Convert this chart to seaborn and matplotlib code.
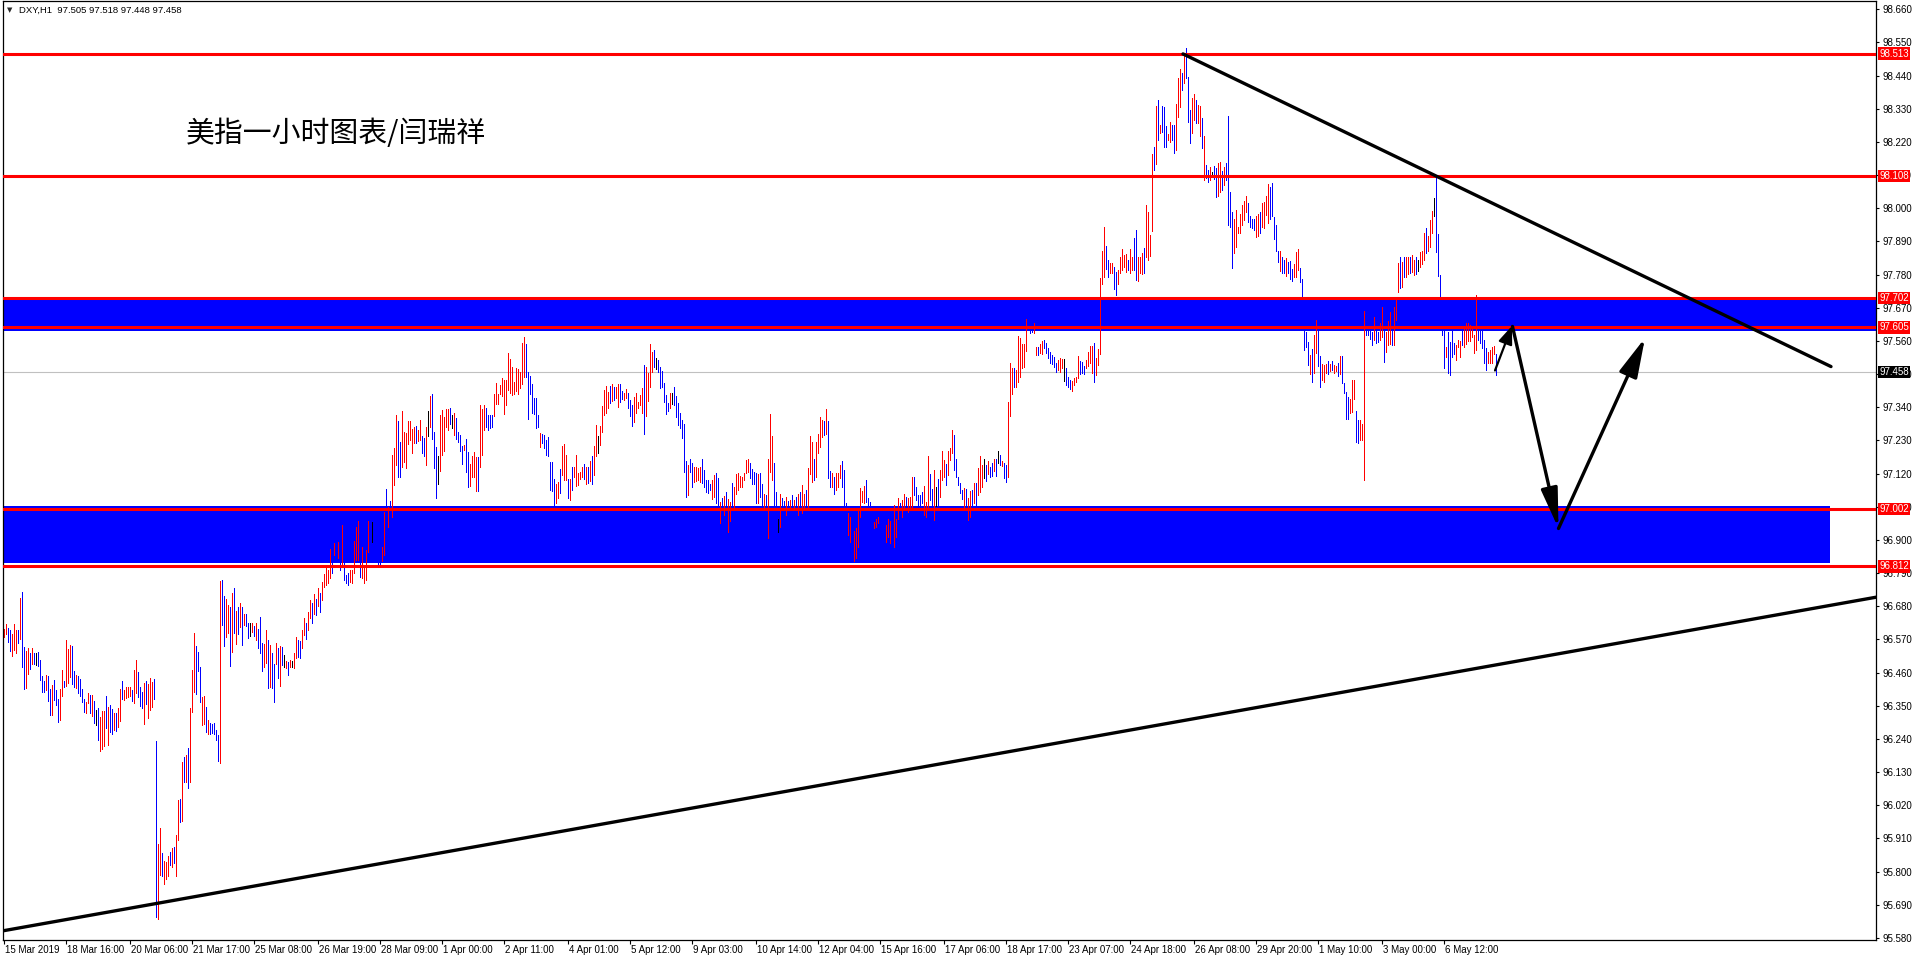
import numpy as np
import pandas as pd
import matplotlib
matplotlib.use("Agg")
import matplotlib.pyplot as plt
import matplotlib.transforms as mtransforms
import seaborn as sns

# hourly bars, prices kept as thousandths above 95.000 (97.458 -> 2458)
BASE = 95.0

# 15 Mar - 20 Mar
high_a = [1606, 1620, 1609, 1601, 1588, 1621, 1601, 1601, 1706, 1727,
          1546, 1532, 1543, 1526, 1540, 1526, 1526, 1529, 1502, 1448,
          1433, 1453, 1448, 1404, 1418, 1435, 1402, 1374, 1407, 1468,
          1433, 1568, 1538, 1551, 1549, 1466, 1452, 1448, 1438, 1407,
          1374, 1363, 1391, 1385, 1385, 1367, 1336, 1343, 1313, 1332,
          1332, 1383, 1346, 1352, 1338, 1327, 1327, 1341, 1407, 1433,
          1402, 1411, 1413, 1411, 1402, 1468, 1501, 1461, 1411, 1396,
          1426, 1432, 1421, 1441, 1430, 1438, 1234, 893, 946, 861,
          835, 832, 853, 866, 879, 882, 921, 1038, 1040, 1165,
          1181, 1187, 1211, 1344, 1470, 1590, 1549, 1529, 1480, 1380,
          1383, 1347, 1303, 1294, 1289, 1294, 1269, 1253, 1763, 1767,
          1714, 1703, 1684, 1676, 1725, 1742, 1665, 1678, 1692, 1676,
          1654, 1653, 1623, 1623, 1623, 1614, 1623, 1606, 1643, 1557,
          1555, 1601, 1568, 1551, 1524, 1490, 1557, 1542, 1548, 1546,
          1518, 1498, 1496, 1502, 1499, 1524, 1577, 1568]
low_a = [1579, 1588, 1562, 1532, 1516, 1535, 1524, 1557, 1573, 1477,
         1406, 1410, 1457, 1473, 1490, 1490, 1485, 1483, 1437, 1396,
         1396, 1402, 1367, 1321, 1319, 1369, 1354, 1297, 1302, 1382,
         1413, 1415, 1426, 1446, 1421, 1413, 1408, 1391, 1382, 1363,
         1330, 1327, 1358, 1325, 1316, 1294, 1286, 1236, 1201, 1208,
         1217, 1275, 1220, 1264, 1256, 1269, 1267, 1280, 1300, 1374,
         1369, 1377, 1380, 1383, 1366, 1358, 1391, 1380, 1350, 1341,
         1289, 1355, 1310, 1336, 1347, 1372, 650, 642, 789, 786,
         760, 776, 785, 822, 816, 827, 787, 904, 966, 968,
         1098, 1098, 1078, 1098, 1330, 1396, 1389, 1465, 1363, 1286,
         1288, 1262, 1258, 1258, 1260, 1255, 1238, 1166, 1161, 1618,
         1548, 1579, 1590, 1483, 1529, 1590, 1555, 1588, 1612, 1551,
         1618, 1614, 1576, 1581, 1595, 1581, 1568, 1542, 1526, 1466,
         1477, 1493, 1410, 1413, 1408, 1363, 1490, 1443, 1415, 1485,
         1479, 1474, 1452, 1477, 1477, 1474, 1507, 1513]
dir_a = ("rrbbrrrbrb" "brrbrbnbbb" "brbbrbbbrr" "brrrbbrbbb" "brrbrbnbrr"
         "rbrbbrbrrb" "rrrrbrrbbb" "rbrrrbbrrb" "rrrbrbrrbr" "brbrrrbbbr"
         "rbrbbbbbrb" "brrbrbrbrb" "rbbnrbrbbb" "rrbrbbrbrb" "nrbrnrrb")

# 26 Mar - 5 Apr
high_b = [1565, 1600, 1640, 1625, 1660, 1700, 1690, 1720, 1705, 1740,
          1725, 1760, 1787, 1809, 1800, 1871, 1860, 1889, 1880, 1894,
          1870, 1950, 1833, 1784, 1790, 1800, 1800, 1898, 1942, 1963,
          1822, 1875, 1806, 1867, 1962, 1950, 1958, 1930, 1900, 1880,
          1870, 1875, 1992, 2069, 2008, 2030, 2182, 2204, 2314, 2296,
          2226, 2329, 2257, 2254, 2296, 2296, 2267, 2276, 2278, 2265,
          2298, 2246, 2237, 2274, 2329, 2377, 2384, 2259, 2209, 2180,
          2314, 2331, 2307, 2333, 2333, 2337, 2314, 2320, 2303, 2257,
          2248, 2212, 2215, 2235, 2193, 2152, 2178, 2193, 2174, 2176,
          2348, 2333, 2348, 2337, 2314, 2314, 2314, 2384, 2419, 2384,
          2414, 2436, 2430, 2430, 2519, 2499, 2475, 2425, 2469, 2466,
          2458, 2552, 2572, 2550, 2458, 2444, 2417, 2370, 2370, 2314,
          2254, 2251, 2248, 2231, 2243, 2160, 2160, 2101, 2086, 2093,
          2134, 2212, 2218, 2182, 2101, 2101, 2143, 2143, 2182, 2123,
          2126, 2143, 2152, 2143, 2141, 2163, 2178, 2212, 2281, 2245]
low_b = [1510, 1540, 1585, 1570, 1600, 1640, 1625, 1655, 1650, 1680,
         1660, 1700, 1745, 1750, 1756, 1773, 1790, 1850, 1830, 1839,
         1800, 1811, 1767, 1756, 1750, 1760, 1756, 1789, 1833, 1833,
         1778, 1773, 1756, 1767, 1861, 1880, 1894, 1870, 1840, 1820,
         1810, 1831, 1850, 2010, 1944, 2005, 1977, 2082, 2149, 2110,
         2110, 2143, 2160, 2140, 2218, 2231, 2189, 2223, 2223, 2229,
         2231, 2189, 2178, 2149, 2245, 2274, 2234, 2140, 2038, 2084,
         2130, 2182, 2196, 2274, 2265, 2285, 2270, 2248, 2234, 2226,
         2196, 2152, 2198, 2126, 2077, 2079, 2110, 2110, 2063, 2063,
         2143, 2182, 2265, 2274, 2265, 2270, 2274, 2311, 2351, 2351,
         2384, 2377, 2318, 2348, 2397, 2388, 2381, 2384, 2395, 2384,
         2403, 2417, 2439, 2439, 2301, 2384, 2320, 2318, 2270, 2274,
         2209, 2220, 2204, 2182, 2178, 2066, 2063, 2013, 2021, 2038,
         2055, 2115, 2099, 2099, 2038, 2032, 2066, 2110, 2079, 2082,
         2101, 2110, 2101, 2084, 2088, 2097, 2086, 2115, 2178, 2189]
dir_b = ("brrbrrbrbr" "brrrrrbrbr" "brbbbrrrrr" "brrrrbnbbb" "brrbrbrrrb"
         "brrrrrrrbr" "rbbrnrbbbn" "rrrrrbnrbb" "bbrbbrrrrb" "rrrbbbbrrr"
         "rrrrrrrrrr" "rrrbbbbbbb" "rbbbbbbbrr" "brrrbrbrrr" "rrbrbrbrrn")

# 5 Apr - 16 Apr
high_c = [2279, 2344, 2397, 2410, 2392, 2410, 2417, 2406, 2406, 2417,
          2417, 2394, 2386, 2399, 2386, 2364, 2347, 2375, 2388, 2358,
          2381, 2403, 2480, 2472, 2455, 2550, 2524, 2530, 2502, 2497,
          2472, 2461, 2421, 2381, 2355, 2386, 2386, 2408, 2377, 2355,
          2320, 2298, 2284, 2162, 2148, 2167, 2154, 2143, 2141, 2137,
          2141, 2167, 2132, 2099, 2099, 2085, 2099, 2115, 2123, 2104,
          2027, 2038, 2046, 2060, 2035, 2027, 2088, 2077, 2119, 2121,
          2112, 2110, 2123, 2165, 2167, 2154, 2134, 2126, 2121, 2119,
          2121, 2085, 2052, 2049, 2170, 2318, 2245, 2154, 2060, 1968,
          2054, 2038, 2030, 2043, 2030, 2032, 2049, 2032, 2043, 2054,
          2060, 2082, 2054, 2066, 2137, 2245, 2226, 2170, 2226, 2253,
          2307, 2298, 2295, 2334, 2295, 2130, 2121, 2110, 2121, 2121,
          2148, 2162, 2132, 2021, 1988, 1977, 1944, 1931, 1938, 1999,
          2071, 2063, 2079, 2099, 2038, 2027, 2010, 1960, 1968, 1975,
          1971, 1955, 1944, 1949, 1971, 1964, 1988, 2016, 1971, 2038]
low_c = [2215, 2259, 2314, 2320, 2336, 2353, 2362, 2364, 2370, 2342,
         2358, 2366, 2364, 2370, 2336, 2311, 2278, 2292, 2322, 2336,
         2347, 2322, 2251, 2311, 2362, 2408, 2458, 2472, 2466, 2458,
         2403, 2406, 2358, 2318, 2329, 2336, 2351, 2347, 2309, 2281,
         2270, 2237, 2126, 2043, 2049, 2126, 2074, 2093, 2095, 2099,
         2093, 2088, 2074, 2060, 2057, 2066, 2035, 2043, 2021, 2010,
         1957, 1999, 1982, 1999, 1927, 1964, 1999, 2010, 2054, 2065,
         2077, 2077, 2099, 2121, 2126, 2104, 2085, 2085, 2024, 2024,
         2043, 2010, 2010, 1999, 1908, 2126, 2099, 2010, 1999, 1927,
         1944, 1999, 1999, 1982, 1999, 1999, 1999, 1999, 1990, 1982,
         1999, 1988, 1999, 2010, 1999, 2119, 2093, 2099, 2110, 2187,
         2209, 2242, 2248, 2251, 2104, 2077, 2074, 2054, 2065, 2074,
         2107, 2077, 2010, 1966, 1916, 1894, 1878, 1831, 1839, 1878,
         1977, 2027, 2021, 2027, 2010, 2010, 1966, 1938, 1944, 1955,
         1933, 1911, 1889, 1894, 1911, 1889, 1922, 1875, 1911, 1968]
dir_c = ("rrrrrbrbrr" "bbrrbbbrrr" "rrbrrrrbnb" "bbbbbrnbbb" "bbbbrbbrrr"
         "rbbbbbrrbb" "rbrbrrbrrr" "rrrrrbbbbr" "bbrbrrrbbn" "rbbrbrbrbr"
         "brrbrrrbrr" "rrbrbbrbrr" "rbbbrrbrrr" "rrrbbbbrrr" "bbbrrrbrrr")

# 16 Apr - 25 Apr
high_d = [2021, 2032, 2052, 2041, 2038, 2041, 2108, 2108, 2074, 2049,
          2049, 2058, 2079, 2027, 2178, 2119, 2068, 2132, 2074, 2101,
          2132, 2196, 2165, 2152, 2196, 2204, 2265, 2248, 2168, 2110,
          2088, 2065, 2071, 2068, 2038, 2063, 2065, 2088, 2088, 2137,
          2178, 2148, 2170, 2148, 2163, 2143, 2156, 2167, 2170, 2196,
          2182, 2163, 2154, 2148, 2359, 2486, 2469, 2469, 2464, 2576,
          2571, 2550, 2550, 2632, 2624, 2618, 2624, 2618, 2539, 2541,
          2550, 2560, 2563, 2552, 2535, 2524, 2513, 2508, 2486, 2497,
          2502, 2499, 2499, 2469, 2441, 2430, 2428, 2436, 2441, 2510,
          2494, 2491, 2477, 2497, 2524, 2543, 2543, 2552, 2502, 2532,
          2768, 2859, 2939, 2875, 2828, 2820, 2817, 2804, 2790, 2795,
          2837, 2864, 2845, 2850, 2828, 2864, 2839, 2900, 2928, 2837,
          2839, 2853, 2867, 3011, 2989, 2911, 3180, 3204, 3339, 3359,
          3276, 3339, 3335, 3273, 3246, 3287, 3276, 3276, 3346, 3431,
          3461, 3450, 3514, 3530, 3434, 3326, 3365, 3379, 3359, 3342]
low_d = [1999, 1977, 1999, 2016, 1994, 2010, 2005, 2049, 2032, 2016,
         2016, 2021, 1982, 1977, 2010, 2032, 2010, 1966, 2012, 2012,
         2041, 2099, 2110, 2082, 2115, 2165, 2187, 2132, 2110, 2082,
         2057, 2035, 2005, 2001, 1966, 1977, 2016, 2021, 2016, 2049,
         2060, 2077, 2104, 2096, 2119, 2108, 2112, 2130, 2112, 2154,
         2148, 2145, 2104, 2093, 2108, 2311, 2383, 2406, 2408, 2425,
         2439, 2469, 2475, 2528, 2596, 2585, 2591, 2587, 2513, 2513,
         2519, 2517, 2535, 2519, 2502, 2488, 2483, 2475, 2458, 2464,
         2458, 2469, 2428, 2414, 2408, 2399, 2395, 2414, 2425, 2436,
         2450, 2455, 2452, 2469, 2477, 2486, 2455, 2425, 2447, 2480,
         2517, 2749, 2773, 2797, 2771, 2784, 2784, 2731, 2712, 2749,
         2784, 2795, 2806, 2790, 2795, 2784, 2795, 2795, 2762, 2760,
         2784, 2782, 2784, 2839, 2828, 2842, 2926, 3127, 3147, 3226,
         3249, 3254, 3204, 3202, 3226, 3221, 3226, 3184, 3193, 3304,
         3337, 3392, 3414, 3431, 3287, 3215, 3249, 3293, 3282, 3282]
dir_d = ("brrbrrrbbb" "bbrrrbbrnb" "rrrbrrrbbb" "bbrbrrbrbr" "rrnbrbbrbn"
         "brbbrrrbrr" "rrrrbbbrrb" "rrbbbbbbbr" "rrnbbbrrrr" "bbbrrrrbrr"
         "rrrbbrrbbr" "rrrrbrrbbr" "rrbrrrrbrb" "rbbbrrbbrr" "rbrbbbrrbr")

# 25 Apr - 7 May
high_e = [3340, 3300, 3240, 3143, 3127, 3138, 3121, 3140, 3132, 3151,
          3154, 3124, 3136, 3149, 3306, 3055, 2989, 2963, 2994, 2939,
          2981, 3011, 3025, 3041, 3019, 2974, 2966, 2963, 2974, 2981,
          2989, 3018, 3022, 3041, 3080, 3069, 3085, 2972, 2944, 2859,
          2859, 2837, 2830, 2834, 2823, 2826, 2797, 2815, 2856, 2864,
          2801, 2767, 2640, 2590, 2557, 2513, 2532, 2580, 2629, 2602,
          2510, 2485, 2480, 2483, 2494, 2483, 2494, 2480, 2477, 2486,
          2510, 2510, 2421, 2392, 2375, 2369, 2432, 2430, 2329, 2298,
          2298, 2284, 2659, 2618, 2600, 2600, 2590, 2640, 2600, 2590,
          2618, 2674, 2600, 2591, 2627, 2657, 2600, 2674, 2707, 2820,
          2837, 2823, 2837, 2839, 2837, 2837, 2845, 2828, 2839, 2830,
          2856, 2859, 2919, 2933, 2908, 2961, 2991, 3033, 3107, 2915,
          2779, 2707, 2600, 2541, 2591, 2557, 2600, 2552, 2546, 2563,
          2561, 2600, 2609, 2620, 2620, 2613, 2605, 2580, 2712, 2707,
          2600, 2600, 2563, 2535, 2524, 2530, 2541, 2543, 2518]
low_e = [3240, 3200, 3094, 3099, 3088, 3094, 3105, 3096, 3038, 3040,
         3055, 3060, 3077, 3094, 2944, 2937, 2801, 2853, 2870, 2919,
         2919, 2944, 2961, 2989, 2955, 2937, 2933, 2928, 2906, 2908,
         2917, 2937, 2933, 2978, 2950, 2966, 2974, 2897, 2859, 2823,
         2793, 2786, 2784, 2775, 2786, 2764, 2760, 2771, 2771, 2795,
         2756, 2707, 2530, 2540, 2480, 2450, 2425, 2455, 2519, 2477,
         2406, 2430, 2425, 2455, 2452, 2461, 2463, 2455, 2461, 2444,
         2450, 2419, 2386, 2300, 2300, 2320, 2325, 2369, 2226, 2222,
         2233, 2231, 2100, 2580, 2580, 2565, 2546, 2563, 2554, 2557,
         2563, 2574, 2491, 2524, 2546, 2550, 2546, 2546, 2629, 2723,
         2734, 2738, 2773, 2773, 2782, 2786, 2790, 2779, 2782, 2793,
         2804, 2815, 2828, 2853, 2859, 2873, 2917, 2974, 2856, 2775,
         2707, 2580, 2469, 2508, 2455, 2447, 2508, 2517, 2497, 2541,
         2508, 2546, 2539, 2550, 2561, 2561, 2574, 2519, 2530, 2563,
         2552, 2535, 2486, 2464, 2486, 2488, 2486, 2517, 2448]
dir_e = ("rbrbbrnbbr" "rbrbbbbrrr" "rrrrbbbbrr" "brrrrbbbbb" "rbbrbbbrrr"
         "bbbbbrbrrb" "brrrbrbrrb" "rbbbbrrrbb" "rrrbbbbrbb" "rrbrrrbrrr"
         "brbrrbrrbn" "rrrbrrrnbb" "bbbrbbbbrr" "rbrrrrrrrb" "bbbbrrrrb")

header = "DXY,H1  97.505 97.518 97.448 97.458"
title = "美指一小时图表/闫瑞祥"
levels = [98.513, 98.108, 97.702, 97.605, 97.002, 96.812]
last_price = 97.458
upper_zone = (97.594, 97.700)
lower_zone = (96.825, 97.012)
lower_zone_end = 913.25

trend_up = ([-0.75, 936.25], [95.603, 96.710])
trend_down = ([589.75, 913.75], [98.512, 97.475])
arrow_small = ((745.75, 97.462), (754.25, 97.610))
arrow_down = ((754.5, 97.608), (777.5, 96.938))
arrow_up = ((777.5, 96.938), (820.75, 97.570))

yticks = [95.580, 95.690, 95.800, 95.910, 96.020, 96.130, 96.240, 96.350,
          96.460, 96.570, 96.680, 96.790, 96.900, 97.010, 97.120, 97.230,
          97.340, 97.450, 97.560, 97.670, 97.780, 97.890, 98.000, 98.110,
          98.220, 98.330, 98.440, 98.550, 98.660]
xtick_bars = [0, 31, 63, 94, 125, 157, 188, 219, 250, 282, 313, 344,
              376, 407, 438, 470, 501, 532, 563, 595, 626, 657, 689, 720]
xtick_labels = ["15 Mar 2019", "18 Mar 16:00", "20 Mar 06:00", "21 Mar 17:00",
                "25 Mar 08:00", "26 Mar 19:00", "28 Mar 09:00", "1 Apr 00:00",
                "2 Apr 11:00", "4 Apr 01:00", "5 Apr 12:00", "9 Apr 03:00",
                "10 Apr 14:00", "12 Apr 04:00", "15 Apr 16:00", "17 Apr 06:00",
                "18 Apr 17:00", "23 Apr 07:00", "24 Apr 18:00", "26 Apr 08:00",
                "29 Apr 20:00", "1 May 10:00", "3 May 00:00", "6 May 12:00"]

sns.set_theme(style="white")
plt.rcParams["font.family"] = ["Liberation Sans", "DejaVu Sans"]

W, H = 1919, 959
fig = plt.figure(figsize=(W / 100, H / 100), dpi=100, facecolor="white")
ax = fig.add_axes([3 / W, 19 / H, 1873 / W, 939 / H])
ax.set_facecolor("white")
xmin, xmax = -0.25, 936.25
ax.set_xlim(xmin, xmax)
ax.set_ylim(95.5731, 98.6875)

bars = pd.DataFrame({
    "high": high_a + high_b + high_c + high_d + high_e,
    "low": low_a + low_b + low_c + low_d + low_e,
    "dir": list(dir_a + dir_b + dir_c + dir_d + dir_e),
})
bars["bar"] = np.arange(len(bars))
long = bars.melt(id_vars=["bar", "dir"], value_vars=["low", "high"],
                 var_name="end", value_name="v")
long["price"] = BASE + long["v"] / 1000.0
long = long.sort_values(["bar", "end"]).reset_index(drop=True)

# zones below the bars
ax.fill_between([xmin, xmax], upper_zone[0], upper_zone[1], color="#0000ff", lw=0, zorder=1)
ax.fill_between([xmin, lower_zone_end], lower_zone[0], lower_zone[1], color="#0000ff", lw=0, zorder=1)
ax.axhline(last_price, color="#c0c0c0", lw=0.8, zorder=1.5)

# one thin vertical line per hourly bar (low to high)
sns.lineplot(data=long, x="bar", y="price", units="bar", estimator=None,
             hue="dir", palette={"r": "#ff0000", "b": "#0000ff", "n": "#000000"},
             sort=False, linewidth=0.5, legend=False, ax=ax, zorder=2,
             antialiased=False)

for p in levels:
    ax.axhline(p, color="#ff0000", lw=2.2, zorder=3)

sns.lineplot(x=trend_up[0], y=trend_up[1], color="black", lw=2.4,
             estimator=None, sort=False, ax=ax, zorder=4)
sns.lineplot(x=trend_down[0], y=trend_down[1], color="black", lw=2.4,
             estimator=None, sort=False, ax=ax, zorder=4)

for (tail, tip), hl, hw, lw in [(arrow_small, 1.1, 0.43, 1.6),
                                (arrow_down, 2.4, 0.5, 2.4),
                                (arrow_up, 2.4, 0.58, 2.4)]:
    ax.annotate("", xy=tip, xytext=tail, zorder=5,
                arrowprops=dict(arrowstyle=f"-|>,head_length={hl},head_width={hw}",
                                color="black", lw=lw, shrinkA=0, shrinkB=0,
                                mutation_scale=10))

ax.set_xlabel("")
ax.set_ylabel("")
ax.grid(False)
for s in ax.spines.values():
    s.set_visible(True)
    s.set_color("black")
    s.set_linewidth(0.9)

ax.yaxis.tick_right()
ax.set_yticks(yticks)
ax.set_yticklabels([f"{v:.3f}" for v in yticks])
ax.tick_params(axis="y", right=True, left=False, direction="out", length=2.2,
               width=0.8, pad=2.2, labelsize=7, colors="black")
ax.set_xticks(xtick_bars)
ax.set_xticklabels(xtick_labels, ha="left")
ax.tick_params(axis="x", bottom=True, direction="out", length=2.6, width=0.8,
               pad=0.8, labelsize=7, colors="black")
shift = mtransforms.ScaledTranslation(1.2 / 72, 0, fig.dpi_scale_trans)
for lbl in ax.get_xticklabels():
    lbl.set_transform(lbl.get_transform() + shift)

ytrans = ax.get_yaxis_transform()
for p in levels:
    ax.text(1 + 3.5 / 1873, p, f"{p:.3f}", transform=ytrans, ha="left", va="center",
            fontsize=7, color="white", clip_on=False, zorder=10,
            bbox=dict(boxstyle="square,pad=0.12", fc="#ff0000", ec="none"))
ax.text(1 + 3.5 / 1873, last_price, f"{last_price:.3f}", transform=ytrans, ha="left",
        va="center", fontsize=7, color="white", clip_on=False, zorder=10,
        bbox=dict(boxstyle="square,pad=0.12", fc="black", ec="none"))

fig.text(7 / W, 1 - 10 / H, "▼", fontsize=5, ha="left", va="center", family=["DejaVu Sans"])
fig.text(19 / W, 1 - 10 / H, header, fontsize=6.8, ha="left", va="center", color="black")
fig.text(186 / W, 1 - 134 / H, title, fontsize=20.8, ha="left", va="center", color="black",
         family=["Noto Sans CJK SC", "DejaVu Sans"], fontweight="light")

fig.savefig("out.png", dpi=100, facecolor="white")
